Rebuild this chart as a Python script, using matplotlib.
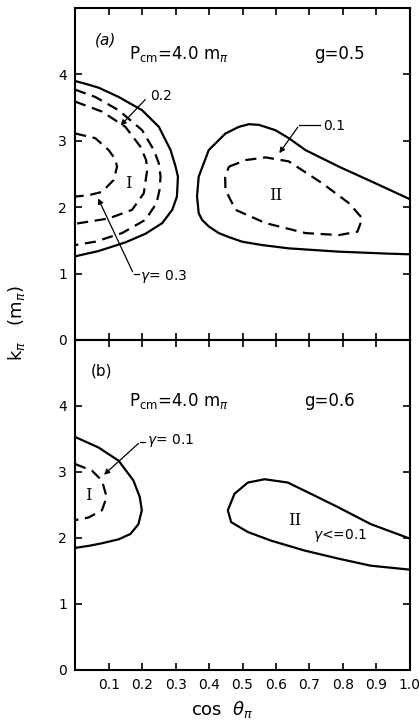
import matplotlib
matplotlib.use("Agg")
import matplotlib.pyplot as plt

plt.rcParams['font.family'] = ['DejaVu Sans']
plt.rcParams['mathtext.fontset'] = 'dejavusans'

# ---- panel (a), g = 0.5 : region I contours (open at cos=0)
a_I_solid_x = [0, 0.03, 0.07, 0.13, 0.20, 0.25, 0.285, 0.30, 0.307, 0.304, 0.29, 0.26, 0.21, 0.15, 0.07, 0]
a_I_solid_y = [3.90, 3.86, 3.80, 3.66, 3.46, 3.21, 2.86, 2.61, 2.46, 2.16, 1.96, 1.76, 1.60, 1.47, 1.34, 1.26]

a_I_d1_x = [0, 0.06, 0.13, 0.20, 0.235, 0.25, 0.255, 0.252, 0.243, 0.21, 0.14, 0.06, 0]
a_I_d1_y = [3.77, 3.66, 3.46, 3.16, 2.86, 2.66, 2.46, 2.26, 2.06, 1.81, 1.61, 1.48, 1.43]

a_I_d2_x = [0, 0.08, 0.15, 0.195, 0.212, 0.215, 0.205, 0.17, 0.10, 0]
a_I_d2_y = [3.59, 3.44, 3.21, 2.91, 2.71, 2.56, 2.21, 1.96, 1.83, 1.75]

a_I_d3_x = [0, 0.06, 0.10, 0.12, 0.125, 0.115, 0.08, 0.04, 0]
a_I_d3_y = [3.11, 3.04, 2.86, 2.72, 2.61, 2.41, 2.23, 2.18, 2.16]

# region II
a_II_solid_x = [1.0, 0.897, 0.788, 0.688, 0.638, 0.598, 0.549, 0.519, 0.489, 0.449, 0.429, 0.399,
                0.384, 0.369, 0.364, 0.369, 0.379, 0.399, 0.429, 0.459, 0.499, 0.558, 0.638,
                0.788, 0.937, 1.0]
a_II_solid_y = [2.12, 2.36, 2.61, 2.86, 3.04, 3.16, 3.24, 3.25, 3.21, 3.11, 3.01, 2.86,
                2.66, 2.46, 2.16, 1.91, 1.81, 1.71, 1.61, 1.55, 1.48, 1.43, 1.38,
                1.33, 1.30, 1.29]

a_II_dash_x = [0.459, 0.51, 0.569, 0.638, 0.738, 0.818, 0.858, 0.843, 0.788, 0.688, 0.569, 0.479, 0.449, 0.448, 0.459]
a_II_dash_y = [2.61, 2.71, 2.75, 2.69, 2.36, 2.06, 1.83, 1.63, 1.58, 1.61, 1.76, 1.96, 2.26, 2.45, 2.61]

# ---- panel (b), g = 0.6
b_I_solid_x = [0, 0.07, 0.13, 0.174, 0.193, 0.199, 0.189, 0.165, 0.13, 0.08, 0.04, 0]
b_I_solid_y = [3.53, 3.37, 3.17, 2.87, 2.62, 2.42, 2.21, 2.06, 1.98, 1.92, 1.88, 1.85]

b_I_dash_x = [0, 0.05, 0.08, 0.094, 0.08, 0.04, 0]
b_I_dash_y = [3.12, 3.02, 2.87, 2.62, 2.42, 2.31, 2.27]

b_II_solid_x = [1.0, 0.883, 0.784, 0.704, 0.635, 0.566, 0.516, 0.476, 0.456, 0.466,
                0.516, 0.585, 0.685, 0.784, 0.883, 1.0]
b_II_solid_y = [1.99, 2.21, 2.47, 2.67, 2.84, 2.89, 2.84, 2.67, 2.42, 2.24,
                2.09, 1.96, 1.81, 1.69, 1.58, 1.52]

x_ticks = [0.1, 0.2, 0.3, 0.4, 0.5, 0.6, 0.7, 0.8, 0.9, 1.0]
x_labels = ['0.1', '0.2', '0.3', '0.4', '0.5', '0.6', '0.7', '0.8', '0.9', '1.0']
y_ticks = [0, 1, 2, 3, 4]

fig = plt.figure(figsize=(4.2, 7.28), dpi=100)
ax_a = fig.add_axes([0.179, 0.533, 0.797, 0.456])
ax_b = fig.add_axes([0.179, 0.0797, 0.797, 0.4533])

dash = (0, (5, 3))
lw = 1.6

def style(ax, show_x):
    ax.set_xlim(0, 1.0)
    ax.set_ylim(0, 5)
    ax.set_xticks(x_ticks)
    ax.set_yticks(y_ticks)
    if show_x:
        ax.set_xticklabels(x_labels)
    else:
        ax.set_xticklabels([])
    ax.tick_params(direction='in', top=True, right=True, length=5, width=1.2,
                   labelsize=10, pad=6)
    for s in ax.spines.values():
        s.set_linewidth(1.5)

style(ax_a, False)
style(ax_b, True)

# panel (a)
ax_a.plot(a_I_solid_x, a_I_solid_y, 'k-', lw=lw)
ax_a.plot(a_I_d1_x, a_I_d1_y, 'k', ls=dash, lw=lw)
ax_a.plot(a_I_d2_x, a_I_d2_y, 'k', ls=dash, lw=lw)
ax_a.plot(a_I_d3_x, a_I_d3_y, 'k', ls=dash, lw=lw)
ax_a.plot(a_II_solid_x, a_II_solid_y, 'k-', lw=lw)
ax_a.plot(a_II_dash_x, a_II_dash_y, 'k', ls=dash, lw=lw)

ax_a.text(0.09, 4.52, '(a)', fontsize=11, style='italic', ha='center', va='center')
ax_a.text(0.16, 4.30, r'P$_{\rm cm}$=4.0 m$_\pi$', fontsize=12, ha='left', va='center')
ax_a.text(0.79, 4.30, 'g=0.5', fontsize=12, ha='center', va='center')
ax_a.text(0.16, 2.35, 'I', fontsize=12, family='DejaVu Serif', ha='center', va='center')
ax_a.text(0.60, 2.18, 'II', fontsize=12, family='DejaVu Serif', ha='center', va='center')

arrow = dict(arrowstyle='-|>', color='k', lw=0.9, mutation_scale=8)
ax_a.text(0.225, 3.68, '0.2', fontsize=10, ha='left', va='center')
ax_a.annotate('', xy=(0.13, 3.20), xytext=(0.215, 3.65), arrowprops=arrow)
ax_a.text(0.74, 3.22, '0.1', fontsize=10, ha='left', va='center')
ax_a.plot([0.67, 0.73], [3.24, 3.24], 'k-', lw=0.9)
ax_a.annotate('', xy=(0.605, 2.78), xytext=(0.67, 3.24), arrowprops=arrow)
ax_a.text(0.195, 0.96, r'$\gamma$= 0.3', fontsize=10, ha='left', va='center')
ax_a.plot([0.175, 0.19], [0.99, 0.99], 'k-', lw=0.9)
ax_a.annotate('', xy=(0.065, 2.17), xytext=(0.175, 0.99), arrowprops=arrow)

# panel (b)
ax_b.plot(b_I_solid_x, b_I_solid_y, 'k-', lw=lw)
ax_b.plot(b_I_dash_x, b_I_dash_y, 'k', ls=dash, lw=lw)
ax_b.plot(b_II_solid_x, b_II_solid_y, 'k-', lw=lw)

ax_b.text(0.08, 4.53, '(b)', fontsize=11, ha='center', va='center')
ax_b.text(0.16, 4.08, r'P$_{\rm cm}$=4.0 m$_\pi$', fontsize=12, ha='left', va='center')
ax_b.text(0.76, 4.08, 'g=0.6', fontsize=12, ha='center', va='center')
ax_b.text(0.04, 2.64, 'I', fontsize=12, family='DejaVu Serif', ha='center', va='center')
ax_b.text(0.655, 2.27, 'II', fontsize=12, family='DejaVu Serif', ha='center', va='center')
ax_b.text(0.71, 2.03, r'$\gamma$<=0.1', fontsize=10, ha='left', va='center')
ax_b.text(0.215, 3.48, r'$\gamma$= 0.1', fontsize=10, ha='left', va='center')
ax_b.plot([0.195, 0.21], [3.46, 3.46], 'k-', lw=0.9)
ax_b.annotate('', xy=(0.08, 2.93), xytext=(0.195, 3.46), arrowprops=arrow)

fig.text(0.04, 0.557, r'k$_\pi$   (m$_\pi$)', fontsize=13, rotation=90, ha='center', va='center')
fig.text(0.53, 0.025, r'cos  $\theta_\pi$', fontsize=13, ha='center', va='center')

fig.savefig('out.png', dpi=100)
